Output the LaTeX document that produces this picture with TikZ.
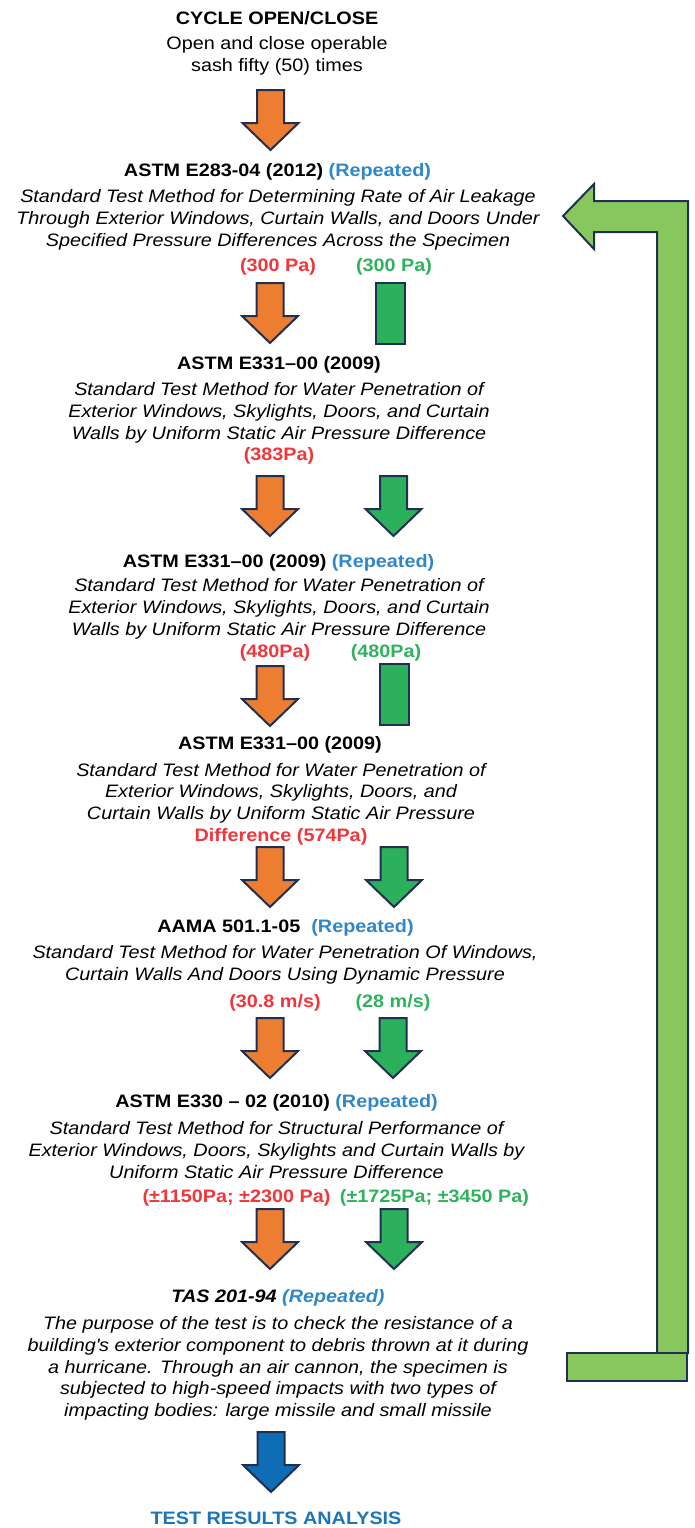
\documentclass[tikz,border=0pt]{standalone}
\usepackage{fontspec}
\setmainfont{Liberation Sans}[FakeStretch=1.1]
\definecolor{orangeA}{HTML}{ED7D31}
\definecolor{greenA}{HTML}{2BB15B}
\definecolor{greenL}{HTML}{88C65E}
\definecolor{blueA}{HTML}{0F6DB6}
\definecolor{edge}{HTML}{1F3052}
\definecolor{redT}{HTML}{F0363A}
\definecolor{greenT}{HTML}{2EB35C}
\definecolor{repBlue}{HTML}{2F87C9}
\definecolor{resBlue}{HTML}{1A75BD}
\tikzset{
  txt/.style={inner sep=0pt, align=center, font=\fontsize{18}{21.7}\selectfont},
  head/.style={txt, font=\fontsize{18}{21.7}\selectfont\bfseries},
  desc/.style={txt, font=\fontsize{18}{21.7}\selectfont\itshape},
  redval/.style={head, text=redT},
  grnval/.style={head, text=greenT},
  blockarrow/.style={draw=edge, line width=2pt},
}
% block arrow pointing down, #2 = top centre
\newcommand{\downarrowblock}[2]{%
  \filldraw[blockarrow, fill=#1] #2 ++(-13.5,0) -- ++(27,0) -- ++(0,33) -- ++(14.5,0)
    -- ++(-28,27) -- ++(-28,-27) -- ++(14.5,0) -- cycle;}
\newcommand{\rep}{\textcolor{repBlue}{(Repeated)}}
\begin{document}
\begin{tikzpicture}[x=1pt, y=-1pt]
  \useasboundingbox (0,0) rectangle (694,1528);

  % texts
  \node[head] (cycT) at (277,18) {CYCLE OPEN/CLOSE};
  \node[txt] (cycD) at (277,56) {Open and close operable\\sash fifty (50) times};

  \node[head] (e283H) at (277.5,172) {ASTM E283-04 (2012) \rep};
  \node[desc] (e283D) at (278,220) {Standard Test Method for Determining Rate of Air Leakage\\
    Through Exterior Windows, Curtain Walls, and Doors Under\\
    Specified Pressure Differences Across the Specimen};
  \node[redval] (e283R) at (278,267) {(300 Pa)};
  \node[grnval] (e283G) at (394,267) {(300 Pa)};

  \node[head] (e331aH) at (279,365) {ASTM E331–00 (2009)};
  \node[desc] (e331aD) at (279,413) {Standard Test Method for Water Penetration of\\
    Exterior Windows, Skylights, Doors, and Curtain\\
    Walls by Uniform Static Air Pressure Difference};
  \node[redval] (e331aR) at (279,456) {(383Pa)};

  \node[head] (e331bH) at (278.5,563) {ASTM E331–00 (2009) \rep};
  \node[desc] (e331bD) at (279,609) {Standard Test Method for Water Penetration of\\
    Exterior Windows, Skylights, Doors, and Curtain\\
    Walls by Uniform Static Air Pressure Difference};
  \node[redval] (e331bR) at (275,653) {(480Pa)};
  \node[grnval] (e331bG) at (386,653) {(480Pa)};

  \node[head] (e331cH) at (280,745) {ASTM E331–00 (2009)};
  \node[desc] (e331cD) at (281,804) {Standard Test Method for Water Penetration of\\
    Exterior Windows, Skylights, Doors, and\\
    Curtain Walls by Uniform Static Air Pressure\\
    {\upshape\bfseries\color{redT}Difference (574Pa)}};

  \node[head] (aamaH) at (285.5,928) {AAMA 501.1-05\ \ \rep};
  \node[desc] (aamaD) at (285,964.5) {Standard Test Method for Water Penetration Of Windows,\\
    Curtain Walls And Doors Using Dynamic Pressure};
  \node[redval] (aamaR) at (275,1003) {(30.8 m/s)};
  \node[grnval] (aamaG) at (393,1003) {(28 m/s)};

  \node[head] (e330H) at (276.5,1103) {ASTM E330 – 02 (2010) \rep};
  \node[desc] (e330D) at (276.5,1150) {Standard Test Method for Structural Performance of\\
    Exterior Windows, Doors, Skylights and Curtain Walls by\\
    Uniform Static Air Pressure Difference};
  \node[redval] (e330R) at (236.5,1198) {(±1150Pa; ±2300 Pa)};
  \node[grnval] (e330G) at (434.5,1198) {(±1725Pa; ±3450 Pa)};

  \node[head, font=\fontsize{18}{21.7}\selectfont\bfseries\itshape] (tasH) at (278,1298) {TAS 201-94 \rep};
  \node[desc] (tasD) at (278,1368.5) {The purpose of the test is to check the resistance of a\\
    building\textquotesingle s exterior component to debris thrown at it during\\
    a hurricane. Through an air cannon, the specimen is\\
    subjected to high-speed impacts with two types of\\
    impacting bodies: large missile and small missile};

  \node[head, text=resBlue] (res) at (276,1518) {TEST RESULTS ANALYSIS};

  % arrows
  \foreach \x in {(270.5,90), (270,283), (270,476), (270,666), (270,847), (270,1018), (270,1209)}
    \downarrowblock{orangeA}{\x};
  \foreach \x in {(393.5,476), (394,847), (393,1018), (394,1209)}
    \downarrowblock{greenA}{\x};
  \foreach \x in {(376,283), (380,664)}
    \filldraw[blockarrow, fill=greenA] \x rectangle +(29,61);
  \downarrowblock{blueA}{(271,1432)}

  % loop back arrow
  \filldraw[blockarrow, fill=greenL] (563,216) -- (594,184) -- (594,201) -- (688,201)
    -- (688,1353) -- (657,1353) -- (657,232) -- (594,232) -- (594,249) -- cycle;
  \filldraw[blockarrow, fill=greenL] (567,1353) rectangle (687,1381);
\end{tikzpicture}
\end{document}
